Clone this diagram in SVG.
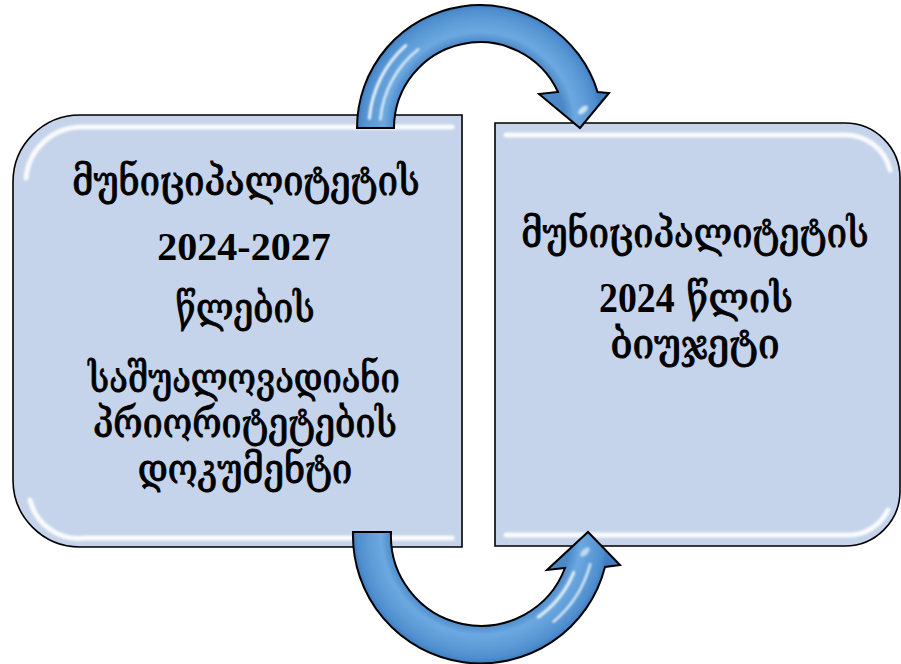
<svg xmlns="http://www.w3.org/2000/svg" width="901" height="664" viewBox="0 0 901 664">
  <style>
    .box { fill: #C5D4EA; stroke: #000; stroke-width: 1.6; }
    .hl { fill: none; stroke: #FFFFFF; stroke-width: 5; stroke-linecap: round; opacity: 0.9; filter: url(#soft); }
    .shade { fill: none; stroke: #A9B9D2; stroke-width: 5; opacity: 0.6; filter: url(#soft); }
    .arrow { stroke: #000; stroke-width: 2; stroke-linejoin: miter; }
    .streak { fill: none; stroke: #FFFFFF; stroke-linecap: round; filter: url(#soft); }
    .t { font-family: "Liberation Serif", "DejaVu Serif", serif; font-weight: bold; font-size: 40px; fill: #000; text-anchor: middle; }
    .g { font-family: "DejaVu Serif", "DejaVu Sans", serif; font-weight: normal; font-size: 42px; fill: #000; text-anchor: middle; stroke: #000; stroke-width: 1; }
    .d { font-family: "Liberation Serif", "DejaVu Serif", serif; font-weight: bold; font-size: 42px; stroke: none; }
  </style>
  <defs>
    <filter id="soft" x="-20%" y="-20%" width="140%" height="140%">
      <feGaussianBlur stdDeviation="1.3"/>
    </filter>
    <radialGradient id="gTop" gradientUnits="userSpaceOnUse" cx="480" cy="128" r="123">
      <stop offset="0" stop-color="#4A88C8"/>
      <stop offset="0.70" stop-color="#4A88C8"/>
      <stop offset="0.78" stop-color="#6CA8E0"/>
      <stop offset="0.88" stop-color="#5E9CD7"/>
      <stop offset="0.96" stop-color="#4F8ECF"/>
      <stop offset="1" stop-color="#3F7DBE"/>
    </radialGradient>
    <radialGradient id="gBot" gradientUnits="userSpaceOnUse" cx="481" cy="535" r="128">
      <stop offset="0" stop-color="#4A88C8"/>
      <stop offset="0.70" stop-color="#4A88C8"/>
      <stop offset="0.78" stop-color="#6CA8E0"/>
      <stop offset="0.88" stop-color="#5E9CD7"/>
      <stop offset="0.96" stop-color="#4F8ECF"/>
      <stop offset="1" stop-color="#3F7DBE"/>
    </radialGradient>
  </defs>

  <g id="node-left">
    <path class="box" d="M80,115 H462 V547 H80 A67 67 0 0 1 13,480 V182 A67 67 0 0 1 80,115 Z"/>
    <path class="hl" d="M26,178 A56 56 0 0 1 82,127 H452"/>
    <path class="hl" d="M30,500 A50 50 0 0 0 85,538 H452"/>
    <path class="shade" d="M455,128 V536"/>
    <text class="g" transform="translate(246,195) scale(0.86,1)">მუნიციპალიტეტის</text>
    <text class="t" x="244" y="260">2024-2027</text>
    <text class="g" transform="translate(245,322) scale(0.84,1)">წლების</text>
    <text class="g" transform="translate(244,392) scale(0.82,1)">საშუალოვადიანი</text>
    <text class="g" transform="translate(245,437) scale(0.85,1)">პრიორიტეტების</text>
    <text class="g" transform="translate(245,483) scale(0.86,1)">დოკუმენტი</text>
  </g>

  <g id="node-right">
    <path class="box" d="M495,123 H845 A55 55 0 0 1 900,178 V491 A55 55 0 0 1 845,546 H495 Z"/>
    <path class="hl" d="M506,135 H843 A46 46 0 0 1 890,170"/>
    <path class="hl" d="M506,535 H848 A44 44 0 0 0 888,510"/>
    <text class="g" transform="translate(695,247) scale(0.86,1)">მუნიციპალიტეტის</text>
    <text class="g" transform="translate(696,312) scale(0.9,1)"><tspan class="d">2024</tspan> წლის</text>
    <text class="g" transform="translate(695,358) scale(0.92,1)">ბიუჯეტი</text>
  </g>

  <g id="connectors">
    <g id="arrow-top">
      <path class="arrow" fill="url(#gTop)" d="M357,128 A123 123 0 0 1 597.6,92 L609,93 L580,128 L539,94 L558,92 A86 86 0 0 0 394,128 Z"/>
      <path class="streak" stroke-width="3" opacity="0.9" d="M369.4,118.3 A111 111 0 0 1 405.7,45.5"/>
      <path class="streak" stroke-width="2.5" opacity="0.8" d="M380.4,119.3 A100 100 0 0 1 418.4,49.2"/>
      <ellipse cx="583" cy="110" rx="6" ry="3" fill="#FFFFFF" opacity="0.7" filter="url(#soft)" transform="rotate(-40 583 110)"/>
    </g>
    <g id="arrow-bottom">
      <path class="arrow" fill="url(#gBot)" d="M353,532 L391,532 A90 90 0 0 0 565,568 L547,570 L588,532 L620,565 L605,567 A128 128 0 0 1 353,532 Z"/>
      <path class="streak" stroke-width="3" opacity="0.85" d="M573.7,572.5 A100 100 0 0 1 538.4,616.9"/>
      <path class="streak" stroke-width="2.5" opacity="0.8" d="M590.2,564.2 A113 113 0 0 1 553.6,621.6"/>
      <ellipse cx="585" cy="552" rx="6" ry="3" fill="#FFFFFF" opacity="0.6" filter="url(#soft)" transform="rotate(-45 585 552)"/>
    </g>
  </g>
</svg>
